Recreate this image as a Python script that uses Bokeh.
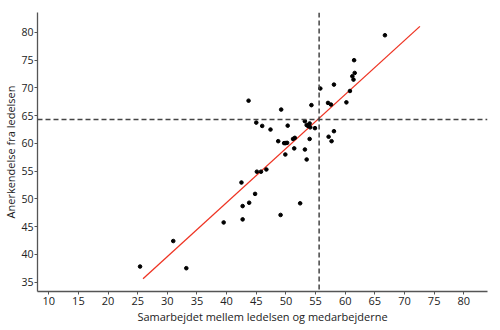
from bokeh.plotting import figure
from bokeh.models import Span, Range1d, FixedTicker
from bokeh.embed import file_html
from bokeh.resources import INLINE

# Data
x_vals = [25.4, 31.0, 33.2, 39.5, 42.5, 42.7, 42.7, 43.8, 44.8, 45.1, 45.8, 46.7,
          49.1, 52.4, 43.7, 49.2, 54.3, 55.8, 58.1, 57.1, 57.6, 60.2, 60.8, 61.2,
          61.4, 61.6, 61.5, 66.7, 45.0, 46.0, 47.4, 50.3, 53.2, 53.5, 54.0, 53.75,
          54.1, 54.9, 48.7, 49.7, 49.95, 50.2, 51.2, 51.5, 54.0, 49.9, 51.4, 53.2,
          53.5, 57.2, 57.7, 58.1]
y_vals = [37.8, 42.4, 37.5, 45.75, 52.95, 48.7, 46.3, 49.3, 50.9, 54.9, 54.9, 55.3,
          47.1, 49.2, 67.7, 66.1, 66.9, 69.9, 70.6, 67.3, 67.0, 67.4, 69.45, 72.1,
          71.5, 72.7, 75.0, 79.5, 63.75, 63.15, 62.5, 63.2, 64.0, 63.3, 63.6, 63.15,
          62.9, 62.75, 60.4, 60.05, 60.05, 60.1, 60.8, 61.0, 60.8, 58.0, 59.1, 58.9,
          57.1, 61.2, 60.4, 62.2]
fit_x = [25.9, 72.6]
fit_y = [35.6, 81.1]
ref_x = 55.6
ref_y = 64.3
x_ticks = [10, 15, 20, 25, 30, 35, 40, 45, 50, 55, 60, 65, 70, 75, 80]
y_ticks = [35, 40, 45, 50, 55, 60, 65, 70, 75, 80]

FONT = "Open Sans"

p = figure(width=500, height=330, output_backend="svg", toolbar_location=None,
           x_range=Range1d(8.1, 84.0), y_range=Range1d(33.3, 83.6),
           min_border_left=37, min_border_right=13, min_border_top=12,
           min_border_bottom=39)
p.outline_line_color = None
p.xgrid.visible = False
p.ygrid.visible = False
p.background_fill_color = "white"
p.border_fill_color = "white"

p.add_layout(Span(location=ref_x, dimension="height", line_color="#444444",
                  line_width=1.5, line_dash="5 3"))
p.add_layout(Span(location=ref_y, dimension="width", line_color="#444444",
                  line_width=1.5, line_dash="5 3"))

p.line(fit_x, fit_y, line_color="#ee3322", line_width=1.3)
p.scatter(x_vals, y_vals, size=3.6, color="black", marker="circle")

for ax, ticks, label in ((p.xaxis[0], x_ticks, "Samarbejdet mellem ledelsen og medarbejderne"),
                         (p.yaxis[0], y_ticks, "Anerkendelse fra ledelsen")):
    ax.ticker = FixedTicker(ticks=ticks)
    ax.axis_label = label
    ax.axis_line_color = "#555555"
    ax.axis_line_width = 1.3
    ax.major_tick_line_color = "#555555"
    ax.major_tick_out = 3
    ax.major_tick_in = 0
    ax.minor_tick_line_color = None
    ax.major_label_text_font = FONT
    ax.major_label_text_font_size = "11px"
    ax.major_label_text_color = "#222222"
    ax.major_label_standoff = 2
    ax.axis_label_text_font = FONT
    ax.axis_label_text_font_size = "11px"
    ax.axis_label_text_font_style = "normal"
    ax.axis_label_text_color = "#222222"
    ax.axis_label_standoff = 1

p.yaxis[0].major_label_standoff = 1
p.yaxis[0].major_label_text_font_size = "10.5px"
p.yaxis[0].axis_label_standoff = 0
p.yaxis[0].major_tick_out = 3

open("out.html", "w").write(file_html(p, INLINE))
